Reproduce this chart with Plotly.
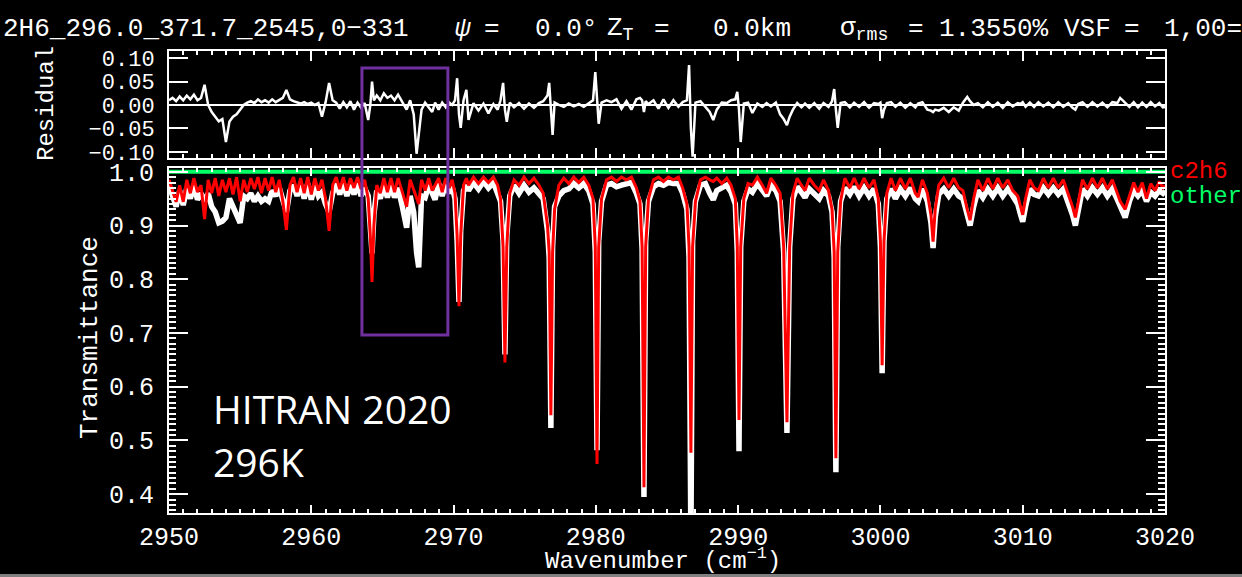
import plotly.graph_objects as go

# ---------------- data ----------------
WAVENUMBER = [
    2950.00, 2950.25, 2950.50, 2950.75, 2951.00, 2951.25, 2951.50, 2951.75,
    2952.00, 2952.25, 2952.50, 2952.75, 2953.00, 2953.25, 2953.50, 2953.75,
    2954.00, 2954.25, 2954.50, 2954.75, 2955.00, 2955.25, 2955.50, 2955.75,
    2956.00, 2956.25, 2956.50, 2956.75, 2957.00, 2957.25, 2957.50, 2957.75,
    2958.00, 2958.25, 2958.50, 2958.75, 2959.00, 2959.25, 2959.50, 2959.75,
    2960.00, 2960.25, 2960.50, 2960.75, 2961.00, 2961.25, 2961.50, 2961.75,
    2962.00, 2962.25, 2962.50, 2962.75, 2963.00, 2963.25, 2963.50, 2963.75,
    2964.00, 2964.15, 2964.27, 2964.40, 2964.60, 2964.85, 2965.10, 2965.35,
    2965.60, 2965.85, 2966.10, 2966.40, 2966.70, 2966.95, 2967.20, 2967.40,
    2967.55, 2967.75, 2968.00, 2968.25, 2968.50, 2968.70, 2968.95, 2969.20,
    2969.45, 2969.70, 2969.90, 2970.10, 2970.25, 2970.38, 2970.50, 2970.70,
    2970.90, 2971.05, 2971.40, 2971.75, 2972.10, 2972.45, 2972.80, 2973.10,
    2973.30, 2973.48, 2973.61, 2973.74, 2973.95, 2974.25, 2974.60, 2974.95,
    2975.30, 2975.65, 2976.00, 2976.30, 2976.60, 2976.72, 2976.84, 2976.96,
    2977.10, 2977.40, 2977.75, 2978.10, 2978.45, 2978.80, 2979.15, 2979.50,
    2979.80, 2979.96, 2980.08, 2980.20, 2980.40, 2980.75, 2981.10, 2981.45,
    2981.80, 2982.15, 2982.50, 2982.85, 2983.10, 2983.25, 2983.38, 2983.50,
    2983.70, 2984.05, 2984.40, 2984.75, 2985.10, 2985.45, 2985.80, 2986.10,
    2986.40, 2986.55, 2986.68, 2986.80, 2987.00, 2987.35, 2987.70, 2988.00,
    2988.25, 2988.50, 2988.85, 2989.20, 2989.50, 2989.80, 2989.94, 2990.06,
    2990.18, 2990.40, 2990.70, 2991.00, 2991.35, 2991.70, 2992.00, 2992.30,
    2992.65, 2992.95, 2993.20, 2993.43, 2993.62, 2993.85, 2994.15, 2994.45,
    2994.70, 2995.00, 2995.35, 2995.70, 2996.00, 2996.35, 2996.60, 2996.75,
    2996.87, 2997.00, 2997.20, 2997.50, 2997.85, 2998.15, 2998.50, 2998.85,
    2999.20, 2999.55, 2999.85, 3000.00, 3000.12, 3000.25, 3000.45, 3000.75,
    3001.05, 3001.40, 3001.75, 3002.10, 3002.45, 3002.65, 3002.95, 3003.30,
    3003.55, 3003.70, 3003.85, 3004.10, 3004.45, 3004.80, 3005.15, 3005.50,
    3005.80, 3006.10, 3006.30, 3006.55, 3006.85, 3007.20, 3007.55, 3007.90,
    3008.25, 3008.60, 3008.95, 3009.30, 3009.65, 3009.85, 3010.00, 3010.20,
    3010.50, 3010.80, 3011.10, 3011.45, 3011.80, 3012.15, 3012.50, 3012.85,
    3013.20, 3013.50, 3013.70, 3013.90, 3014.20, 3014.55, 3014.90, 3015.25,
    3015.60, 3015.95, 3016.30, 3016.65, 3016.85, 3017.20, 3017.50, 3017.80,
    3018.10, 3018.40, 3018.70, 3019.00, 3019.30, 3019.60, 3019.85, 3020.00,
]

# calculated transmittance (c2h6, red)
T_CALC = [
    .985, .962, .944, .975, .944, .985, .960, .988,
    .962, .975, .912, .985, .960, .988, .955, .985,
    .962, .988, .958, .990, .945, .985, .962, .988,
    .968, .990, .960, .988, .965, .990, .962, .985,
    .945, .892, .975, .990, .962, .988, .960, .990,
    .958, .988, .965, .985, .950, .890, .975, .990,
    .968, .990, .965, .988, .970, .990, .968, .985,
    .950, .880, .795, .900, .975, .960, .988, .962,
    .988, .962, .988, .962, .935, .985, .965, .950,
    .940, .985, .965, .988, .965, .975, .988, .962,
    .988, .970, .985, .960, .880, .750, .880, .975,
    .988, .975, .990, .978, .990, .980, .990, .975,
    .950, .860, .645, .860, .960, .985, .975, .990,
    .978, .988, .975, .960, .900, .850, .547, .850,
    .930, .975, .988, .978, .990, .980, .990, .975,
    .950, .860, .456, .860, .950, .985, .990, .982,
    .990, .985, .990, .970, .945, .860, .413, .860,
    .950, .985, .990, .982, .990, .985, .990, .970,
    .940, .860, .477, .860, .945, .985, .990, .985,
    .982, .988, .978, .988, .975, .950, .860, .538,
    .860, .950, .978, .975, .990, .975, .960, .988,
    .975, .960, .860, .534, .860, .960, .988, .975,
    .965, .988, .975, .965, .985, .965, .930, .850,
    .467, .850, .945, .988, .970, .988, .968, .988,
    .970, .985, .950, .870, .640, .870, .960, .988,
    .965, .988, .968, .988, .960, .953, .985, .960,
    .920, .870, .930, .975, .988, .970, .988, .970,
    .965, .930, .910, .950, .985, .965, .988, .968,
    .988, .970, .985, .965, .955, .935, .920, .950,
    .985, .970, .965, .988, .970, .988, .970, .985,
    .960, .935, .915, .945, .985, .968, .988, .970,
    .988, .968, .985, .960, .945, .930, .955, .980,
    .962, .980, .950, .978, .965, .982, .970, .975,
]

# observed transmittance (white)
T_OBS = [
    .975, .950, .935, .965, .938, .970, .950, .975,
    .948, .960, .945, .960, .935, .925, .905, .908,
    .915, .950, .935, .915, .905, .955, .950, .960,
    .945, .955, .945, .950, .945, .965, .955, .970,
    .945, .925, .965, .975, .955, .975, .950, .978,
    .948, .975, .955, .962, .940, .925, .960, .978,
    .958, .978, .955, .975, .958, .978, .955, .970,
    .955, .900, .848, .920, .965, .950, .975, .952,
    .975, .952, .970, .935, .896, .955, .925, .850,
    .822, .955, .952, .975, .958, .948, .978, .955,
    .978, .960, .972, .950, .870, .758, .890, .965,
    .975, .965, .980, .968, .982, .970, .980, .962,
    .945, .870, .660, .880, .955, .975, .960, .975,
    .962, .970, .958, .950, .890, .840, .523, .860,
    .935, .955, .965, .968, .978, .970, .978, .965,
    .940, .850, .482, .870, .945, .975, .978, .972,
    .975, .978, .980, .960, .940, .855, .395, .870,
    .945, .972, .978, .975, .980, .978, .978, .960,
    .930, .840, .300, .870, .945, .975, .978, .960,
    .948, .965, .970, .975, .962, .940, .850, .480,
    .860, .945, .968, .962, .978, .965, .955, .975,
    .965, .945, .850, .514, .860, .950, .972, .962,
    .952, .968, .958, .950, .965, .955, .925, .840,
    .441, .860, .945, .970, .958, .972, .955, .970,
    .955, .968, .940, .860, .625, .870, .950, .968,
    .950, .968, .955, .970, .950, .945, .968, .945,
    .905, .858, .915, .958, .968, .955, .968, .955,
    .950, .915, .900, .935, .965, .952, .968, .955,
    .970, .955, .968, .955, .940, .920, .907, .935,
    .968, .958, .955, .970, .958, .970, .958, .968,
    .945, .920, .900, .930, .968, .955, .970, .958,
    .970, .955, .968, .948, .935, .915, .945, .965,
    .955, .965, .945, .962, .955, .965, .960, .965,
]

# residual (observed - calculated)
RESIDUAL = [
    .010, .015, .008, .018, .010, .020, .012, .022,
    .010, .015, .043, .000, -.015, -.025, -.035, -.030,
    -.079, -.035, -.025, -.020, -.010, .000, .005, .008,
    .004, .012, .006, .010, .005, .012, .006, .010,
    .015, .032, .012, .008, .005, .003, .006, .002,
    .005, .000, .004, -.025, .005, .047, .010, .005,
    -.008, .006, -.005, .008, -.010, .005, -.006, .004,
    -.032, .000, .050, .010, .020, .010, .025, .015,
    .020, .010, .022, .005, -.010, .010, -.020, -.104,
    -.060, -.010, .005, -.005, -.015, .005, -.010, .005,
    -.005, .005, .000, .010, .057, -.020, -.049, .010,
    .032, -.032, .004, -.012, .003, -.018, .002, -.010,
    .010, .047, -.010, -.036, .005, -.005, .004, -.008,
    .003, -.006, .004, .008, .020, .047, -.010, -.064,
    .005, .000, -.004, .003, -.003, .002, -.004, .003,
    .010, .070, .000, -.040, .005, .010, .006, .012,
    -.008, .008, -.010, .012, .015, .010, -.015, .008,
    .002, .010, -.008, .012, -.006, .010, -.004, .006,
    .010, .085, -.050, -.110, .005, .008, -.004, -.015,
    -.032, -.010, .005, .004, .010, .012, .028, -.010,
    -.079, .003, .005, -.017, .003, -.004, .004, -.003,
    .005, -.020, -.030, -.043, -.025, -.010, .004, -.005,
    .003, -.006, .004, -.008, .004, -.004, .008, .034,
    -.010, -.049, .004, .006, -.005, .005, -.004, .006,
    -.006, .004, .002, .005, -.028, -.010, .004, .006,
    -.004, .005, -.006, .004, -.005, .003, .006, -.010,
    -.012, -.015, -.010, -.012, -.006, -.015, -.005, -.012,
    .005, .017, .008, .000, .004, -.005, .006, -.004,
    .005, -.006, .006, -.003, .004, .002, .006, -.004,
    .005, -.004, .006, -.003, .005, -.005, .006, -.004,
    .004, -.006, -.010, .002, .006, -.004, .006, -.003,
    .005, -.005, .006, .004, .015, .004, -.004, .006,
    -.005, .005, -.004, .006, -.003, .004, -.005, -.004,
]

OTHER_WN = [2950.0, 3020.0]
OTHER_T = [1.0, 1.0]

X_RANGE = [2950, 3020]
X_TICKS = [2950, 2960, 2970, 2980, 2990, 3000, 3010, 3020]
T_TICKS = [0.4, 0.5, 0.6, 0.7, 0.8, 0.9, 1.0]
T_TICK_TEXT = ["0.4", "0.5", "0.6", "0.7", "0.8", "0.9", "1.0"]
R_TICKS = [-0.10, -0.05, 0.0, 0.05, 0.10]
R_TICK_TEXT = ["\u22120.10", "\u22120.05", "0.00", "0.05", "0.10"]
BOX_WN = [2963.56, 2969.6]

# ---------------- layout helpers (pixel geometry) ----------------
W, H = 1242, 577
L, R, T, B = 169, 1165, 51, 513


def px_x(px):
    return (px - L) / (R - L)


def px_y(py):
    return (B - py) / (B - T)


MONO = "Liberation Mono"
WHITE = "#ffffff"

fig = go.Figure()

# main panel traces
fig.add_trace(go.Scatter(x=WAVENUMBER, y=T_OBS, mode="lines",
                         line=dict(color=WHITE, width=5.5),
                         xaxis="x", yaxis="y", showlegend=False, hoverinfo="skip"))
fig.add_trace(go.Scatter(x=WAVENUMBER, y=T_CALC, mode="lines",
                         line=dict(color="#ff0000", width=3),
                         xaxis="x", yaxis="y", showlegend=False, hoverinfo="skip"))
fig.add_trace(go.Scatter(x=OTHER_WN, y=OTHER_T, mode="lines",
                         line=dict(color="#00ff66", width=4),
                         xaxis="x", yaxis="y", showlegend=False, hoverinfo="skip"))
# residual panel
fig.add_trace(go.Scatter(x=WAVENUMBER, y=RESIDUAL, mode="lines",
                         line=dict(color=WHITE, width=2.5),
                         xaxis="x2", yaxis="y2", showlegend=False, hoverinfo="skip"))

main_dom_top = px_y(168)
res_dom_bot = px_y(158)

common_x = dict(
    range=X_RANGE, showgrid=False, zeroline=False,
    showline=True, linecolor=WHITE, linewidth=2, mirror="allticks",
    ticks="inside", tickcolor=WHITE, tickwidth=2,
    tickvals=X_TICKS,
    minor=dict(dtick=1, ticks="inside", ticklen=4, tickcolor=WHITE, tickwidth=2),
)

fig.update_layout(
    width=W, height=H,
    margin=dict(l=L, r=W - R, t=T, b=H - B, pad=0),
    paper_bgcolor="#000000", plot_bgcolor="#000000",
    xaxis=dict(**common_x, anchor="y", ticklen=8,
               showticklabels=True, ticktext=[str(v) for v in X_TICKS],
               tickfont=dict(family=MONO, size=25, color=WHITE),
               ticklabelstandoff=0),
    yaxis=dict(domain=[0, main_dom_top], range=[0.365, 1.007],
               showgrid=False, zeroline=False,
               showline=True, linecolor=WHITE, linewidth=2, mirror="allticks",
               ticks="inside", tickcolor=WHITE, tickwidth=2, ticklen=19,
               tickvals=T_TICKS, ticktext=T_TICK_TEXT,
               minor=dict(dtick=0.01, ticks="inside", ticklen=7,
                          tickcolor=WHITE, tickwidth=2),
               tickfont=dict(family=MONO, size=25, color=WHITE),
               ticklabelstandoff=8),
    xaxis2=dict(**common_x, anchor="y2", ticklen=10, showticklabels=False),
    yaxis2=dict(domain=[res_dom_bot, 1], range=[-0.113, 0.115],
                showgrid=False, zeroline=True, zerolinecolor=WHITE, zerolinewidth=2,
                showline=True, linecolor=WHITE, linewidth=2, mirror="allticks",
                ticks="inside", tickcolor=WHITE, tickwidth=2, ticklen=19,
                tickvals=R_TICKS, ticktext=R_TICK_TEXT,
                tickfont=dict(family=MONO, size=22, color=WHITE),
                ticklabelstandoff=8),
)

annotations = []


def add_text(text, px, py, size, color=WHITE, family=MONO, xanchor="left",
             yanchor="middle", angle=0):
    annotations.append(dict(
        text=text, x=px_x(px), y=px_y(py), xref="paper", yref="paper",
        xanchor=xanchor, yanchor=yanchor, showarrow=False, textangle=angle,
        font=dict(family=family, size=size, color=color)))


# title pieces
TITLE_Y = 29
add_text("2H6_296.0_371.7_2545,0\u2212331", 1, TITLE_Y, 26)
add_text("<i>\u03c8</i>", 453, TITLE_Y, 26)
add_text("=", 482, TITLE_Y, 26)
add_text("0.0\u00b0", 533, TITLE_Y, 26)
add_text("Z<sub>T</sub>", 605, TITLE_Y, 26)
add_text("=", 652, TITLE_Y, 26)
add_text("0.0km", 711, TITLE_Y, 26)
add_text("\u03c3<sub>rms</sub>", 838, TITLE_Y, 26)
add_text("=", 906, TITLE_Y, 26)
add_text("1.3550%", 937, TITLE_Y, 26)
add_text("VSF", 1062, TITLE_Y, 26)
add_text("=", 1122, TITLE_Y, 26)
add_text("1,00=", 1162, TITLE_Y, 26)

# axis titles
add_text("Residual", 47, 104, 24, xanchor="center", angle=-90)
add_text("Transmittance", 90, 338, 26, xanchor="center", angle=-90)
add_text("Wavenumber (cm<sup>\u22121</sup>)", 663, 559, 24, xanchor="center")

# species labels
add_text("c2h6", 1168, 171, 24, color="#ff0000")
add_text("other", 1168, 196, 24, color="#00ff66")

# HITRAN label
add_text("HITRAN 2020", 211, 408, 39, family="Open Sans")
add_text("296K", 211, 461, 39, family="Open Sans")

fig.update_layout(annotations=annotations)

# purple highlight box spanning both panels
fig.add_shape(type="rect", xref="x", yref="paper",
              x0=BOX_WN[0], x1=BOX_WN[1], y0=px_y(335), y1=px_y(68),
              line=dict(color="#7030a0", width=3), fillcolor="rgba(0,0,0,0)",
              layer="above")
# grey strip at bottom of screenshot
fig.add_shape(type="rect", xref="paper", yref="paper",
              x0=px_x(0), x1=px_x(W), y0=px_y(577), y1=px_y(574),
              line=dict(width=0), fillcolor="#7f7f7f", layer="below")

fig.write_html(
    "out.html",
    config={"displayModeBar": False},
    post_script="document.body.style.margin='0';"
                "document.body.style.overflow='hidden';"
                "document.body.style.background='#000';",
)
